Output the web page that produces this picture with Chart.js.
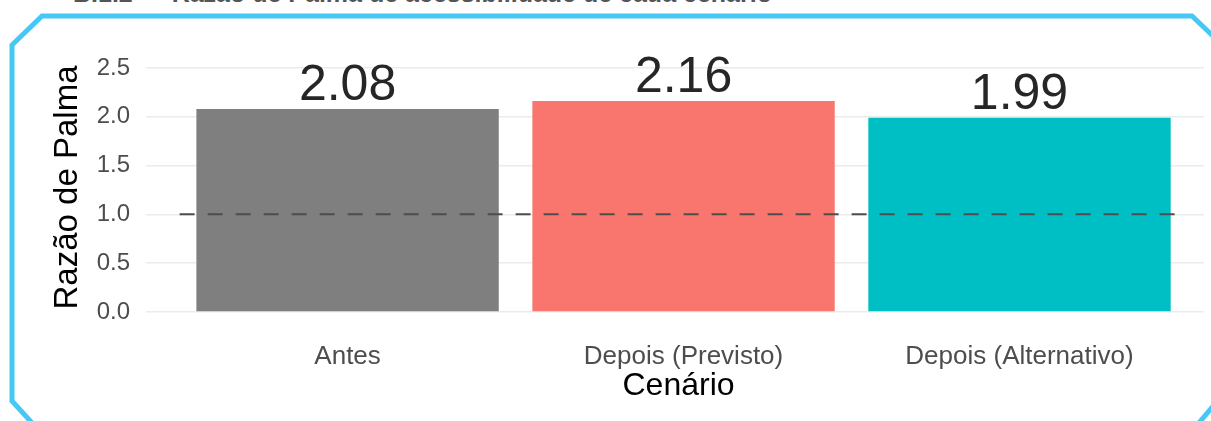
<!DOCTYPE html>
<html lang="pt">
<head>
  <meta charset="UTF-8" />
  <title>Razão de Palma</title>
  <script src="https://cdn.jsdelivr.net/npm/chart.js"></script>
  <style>
    body { margin: 0; background: #fff; }
    #wrap { position: relative; width: 1211px; height: 421px; overflow: hidden; }
    #topTitle {
      position: absolute; left: 73px; top: -21px; white-space: nowrap; line-height: 30px;
      font: bold 25px "Liberation Sans", Arial, sans-serif; color: #555;
    }
    canvas { position: absolute; left: 0; top: 0; }
  </style>
</head>
<body>
<div id="wrap">
  <div id="topTitle">B.1.2 — Razão de Palma de acessibilidade de cada cenário</div>
  <canvas id="chart" width="1211" height="421"></canvas>
</div>

<script>
  // dados
  const cenarios = ['Antes', 'Depois (Previsto)', 'Depois (Alternativo)'];
  const razao = [2.08, 2.16, 1.99];
  const cores = ['#7F7F7F', '#F8766D', '#00BFC4'];
  const yTicks = [0, 0.5, 1.0, 1.5, 2.0, 2.5];
  const referencia = 1.0;

  const FONT = '"Liberation Sans", Arial, sans-serif';

  // a imagem original está cortada à direita: tapa o resto da grade
  const corte = {
    id: 'corte',
    beforeDatasetsDraw(chart) {
      const ctx = chart.ctx;
      ctx.save();
      ctx.fillStyle = '#fff';
      ctx.fillRect(1204, 0, 20, chart.height);
      ctx.restore();
    }
  };

  // moldura azul com cantos chanfrados
  const moldura = {
    id: 'moldura',
    afterDraw(chart) {
      const ctx = chart.ctx;
      ctx.save();
      ctx.strokeStyle = '#45C8F5';
      ctx.lineWidth = 5;
      ctx.lineJoin = 'miter';
      ctx.beginPath();
      ctx.moveTo(1198, 424);
      ctx.lineTo(1214, 405);
      ctx.moveTo(1214, 37);
      ctx.lineTo(1192, 16);
      ctx.lineTo(42, 16);
      ctx.lineTo(12, 45);
      ctx.lineTo(12, 401);
      ctx.lineTo(33, 424);
      ctx.stroke();
      ctx.restore();
    }
  };

  // valores em cima das barras
  const rotulos = {
    id: 'rotulos',
    afterDatasetsDraw(chart) {
      const meta = chart.getDatasetMeta(0);
      const ctx = chart.ctx;
      ctx.save();
      ctx.font = '50px ' + FONT;
      ctx.fillStyle = '#262626';
      ctx.textAlign = 'center';
      ctx.textBaseline = 'alphabetic';
      meta.data.forEach((bar, i) => {
        ctx.fillText(razao[i].toFixed(2), bar.x, bar.y - 9);
      });
      ctx.restore();
    }
  };

  new Chart(document.getElementById('chart'), {
    type: 'bar',
    data: {
      datasets: [
        {
          type: 'bar',
          data: razao.map((v, i) => ({ x: i + 1, y: v })),
          backgroundColor: cores,
          borderWidth: 0,
          categoryPercentage: 1.0,
          barPercentage: 0.9,
          order: 1
        },
        {
          type: 'line',
          data: [{ x: 0.5, y: referencia }, { x: 3.5, y: referencia }],
          borderColor: '#4D4D4D',
          borderWidth: 2,
          borderDash: [15, 13],
          pointRadius: 0,
          fill: false,
          order: 0
        }
      ]
    },
    options: {
      responsive: false,
      animation: false,
      layout: { padding: { top: 63, right: 0, bottom: 0, left: 0 } },
      plugins: { legend: { display: false }, tooltip: { enabled: false } },
      scales: {
        x: {
          type: 'linear',
          offset: false,
          min: 0.4,
          max: 3.57,
          grid: { display: false, offset: false },
          border: { display: false },
          afterBuildTicks: s => { s.ticks = cenarios.map((_, i) => ({ value: i + 1 })); },
          afterFit: s => { s.height = 109; },
          ticks: {
            padding: 21,
            color: '#4D4D4D',
            font: { family: FONT, size: 26 },
            callback: v => cenarios[v - 1]
          },
          title: {
            display: true,
            text: 'Cenário',
            color: '#000',
            font: { family: FONT, size: 32 },
            padding: { top: 0, bottom: 16 }
          }
        },
        y: {
          min: 0,
          max: 2.55,
          grid: { color: '#EBEBEB', lineWidth: 1.5, drawTicks: false },
          border: { display: false },
          afterBuildTicks: s => { s.ticks = yTicks.map(v => ({ value: v })); },
          afterFit: s => { s.width = 146; },
          ticks: {
            padding: 16,
            color: '#4D4D4D',
            font: { family: FONT, size: 24 },
            callback: v => v.toFixed(1)
          },
          title: {
            display: true,
            text: 'Razão de Palma',
            color: '#000',
            font: { family: FONT, size: 33 },
            padding: { top: 48, bottom: 0 }
          }
        }
      }
    },
    plugins: [corte, moldura, rotulos]
  });
</script>
</body>
</html>
